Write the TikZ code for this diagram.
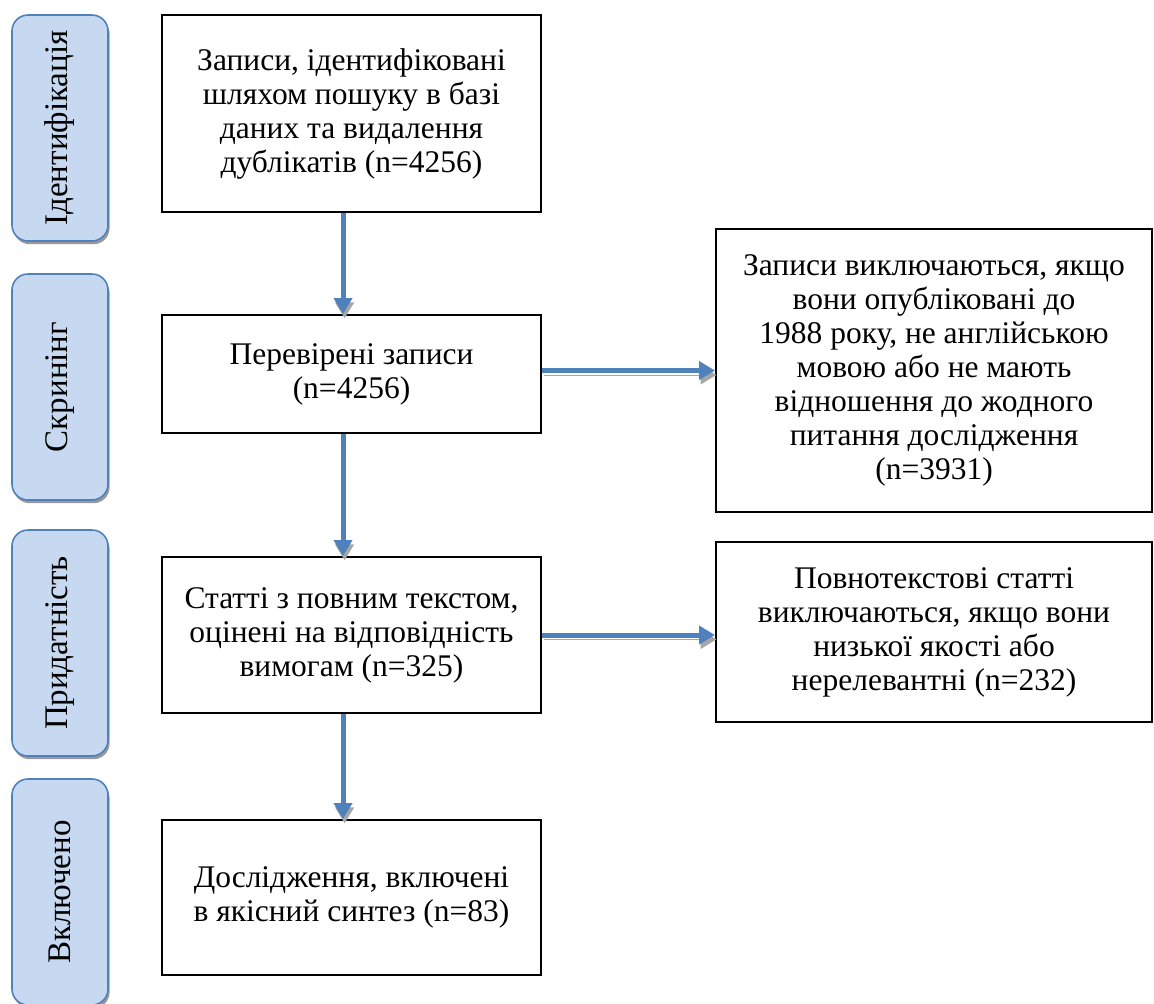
\documentclass[tikz,border=0pt]{standalone}
\usepackage{fontspec}
\usepackage{graphicx}
\setmainfont{Liberation Serif}
\usetikzlibrary{arrows.meta,shadows}

\definecolor{stagefill}{HTML}{C6D9F1}
\definecolor{stageedge}{HTML}{4F81BD}
\definecolor{flowblue}{HTML}{4F81BD}

\tikzset{
  stage/.style={draw=stageedge, fill=stagefill, line width=0.8pt, rounded corners=8pt,
    minimum width=48pt, minimum height=113pt, inner sep=0pt,
    font=\fontsize{16.5}{18}\selectfont,
    drop shadow={shadow xshift=0.8pt, shadow yshift=-1.6pt, fill=black!40, opacity=1}},
  record/.style={draw=black, line width=1pt, align=center, inner sep=0pt,
    minimum width=189.5pt},
  excluded/.style={record, minimum width=218pt},
  flow/.style={line width=2.5pt, draw=flowblue, -{Triangle[length=8pt,width=9pt]},
    preaction={draw=black!35, -{Triangle[length=8pt,width=9pt]},
      transform canvas={shift={(0.8pt,-2.2pt)}}}}
}

\begin{document}
\begin{tikzpicture}[x=0.5pt,y=-0.5pt,font=\fontsize{15.75}{17}\selectfont]

\useasboundingbox (0,0) rectangle (1154,1003);

% The stages down the left side
\node[stage] (ident) at (60,128) {\rotatebox{90}{Ідентифікація}};
\node[stage] (screen) at (60,387) {\rotatebox{90}{Скринінг}};
\node[stage] (elig) at (60,643) {\rotatebox{90}{Придатність}};
\node[stage] (incl) at (60,892) {\rotatebox{90}{Включено}};

% The main column of records
\node[record, minimum height=98.5pt] (found) at (351.5,113.5)
  {Записи, ідентифіковані\\шляхом пошуку в базі\\даних та видалення\\дублікатів (n=4256)};
\node[record, minimum height=59pt] (checked) at (351.5,374)
  {Перевірені записи\\(n=4256)};
\node[record, minimum height=78pt] (fulltext) at (351.5,635)
  {Статті з повним текстом,\\оцінені на відповідність\\вимогам (n=325)};
\node[record, minimum height=77.5pt] (synth) at (351.5,897.5)
  {Дослідження, включені\\в якісний синтез (n=83)};

% The excluded records on the right
\node[excluded, minimum height=141.5pt] (dropA) at (934,370.5)
  {Записи виключаються, якщо\\вони опубліковані до\\1988 року, не англійською\\мовою або не мають\\відношення до жодного\\питання дослідження\\(n=3931)};
\node[excluded, minimum height=90pt] (dropB) at (934,632)
  {Повнотекстові статті\\виключаються, якщо вони\\низької якості або\\нерелевантні (n=232)};

% Arrows down the column
\draw[flow] ([xshift=-4.25pt]found.south) -- ([xshift=-4.25pt]checked.north);
\draw[flow] ([xshift=-4.25pt]checked.south) -- ([xshift=-4.25pt]fulltext.north);
\draw[flow] ([xshift=-4.25pt]fulltext.south) -- ([xshift=-4.25pt]synth.north);

% Arrows out to the exclusions
\draw[flow] (checked.east |- dropA.west) -- (dropA.west);
\draw[flow] (fulltext.east) -- (fulltext.east -| dropB.west);

\end{tikzpicture}
\end{document}
